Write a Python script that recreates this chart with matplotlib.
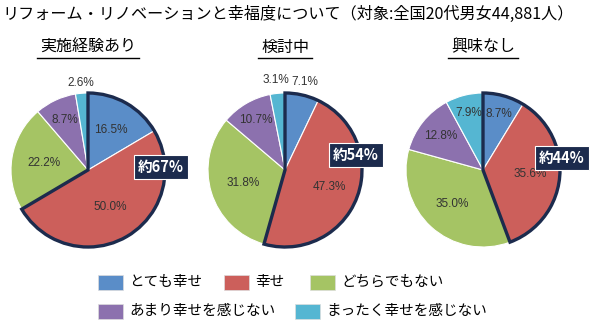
import matplotlib
matplotlib.use("Agg")
import matplotlib.pyplot as plt
from matplotlib.patches import Wedge, Rectangle
import numpy as np

plt.rcParams["font.family"] = ["Noto Sans CJK JP", "DejaVu Sans"]

# data
title = "リフォーム・リノベーションと幸福度について（対象:全国20代男女44,881人）"
groups = ["実施経験あり", "検討中", "興味なし"]
categories = ["とても幸せ", "幸せ", "どちらでもない", "あまり幸せを感じない", "まったく幸せを感じない"]
shares = [
    [16.5, 50.0, 22.2, 8.7, 2.6],
    [7.1, 47.3, 31.8, 10.7, 3.1],
    [8.7, 35.6, 35.0, 12.8, 7.9],
]
callouts = ["約67%", "約54%", "約44%"]

colors = ["#5A8DC8", "#CC5F5B", "#A5C464", "#8C71AE", "#55B6D2"]
navy = "#1C2B4D"

W, H = 590, 324
fig = plt.figure(figsize=(W / 100, H / 100), dpi=100)
ax = fig.add_axes([0, 0, 1, 1])

# layout in pixel coords (y from top)
centers = [(88, 170), (285, 170), (483, 170)]
radius = 77
label_dist = [
    [0.60, 0.56, 0.58, 0.72, 1.13],
    [1.17, 0.61, 0.57, 0.75, 1.17],
    [0.76, 0.61, 0.59, 0.70, 0.76],
]
callout_pos = [(161, 167), (356, 155), (562, 158)]

for i, vals in enumerate(shares):
    cx, cy = centers[i]
    c = (cx, H - cy)
    wedges, _ = ax.pie(vals, colors=colors, center=c, radius=radius,
                       startangle=90, counterclock=False,
                       wedgeprops=dict(edgecolor="white", linewidth=0.8))
    for j, w in enumerate(wedges):
        ang = np.deg2rad((w.theta1 + w.theta2) / 2)
        d = label_dist[i][j] * radius
        ax.text(c[0] + d * np.cos(ang), c[1] + d * np.sin(ang), f"{vals[j]:.1f}%",
                ha="center", va="center", fontsize=8.5, color="#333333",
                family="Liberation Sans")
    # outline of the two "happy" slices
    sweep = (vals[0] + vals[1]) * 3.6
    ax.add_patch(Wedge(c, radius, 90 - sweep, 90, fill=False,
                       edgecolor=navy, linewidth=2.4, joinstyle="miter", zorder=5))
    px, py = callout_pos[i]
    ax.text(px, H - py, callouts[i], ha="center", va="center", fontsize=10.5,
            fontweight="bold", color="white", zorder=6,
            bbox=dict(boxstyle="square,pad=0.3", facecolor=navy, edgecolor="white", linewidth=0.8))

ax.set_xlim(0, W)
ax.set_ylim(0, H)
ax.set_aspect("equal")
ax.axis("off")

fig.text(2 / W, 1 - 14 / H, title, ha="left", va="center", fontsize=11.6, color="black")

subs = []
for i, g in enumerate(groups):
    t = fig.text(centers[i][0] / W, 1 - 47 / H, g, ha="center", va="center",
                 fontsize=11.5, color="black")
    subs.append(t)

# legend
leg_pos = [(98, 282), (224, 282), (310, 282), (98, 311), (295, 311)]
for k, cat in enumerate(categories):
    lx, ly = leg_pos[k]
    ax.add_patch(Rectangle((lx, H - ly - 7.5), 25, 15, facecolor=colors[k],
                           edgecolor="#dddddd", linewidth=0.5))
    ax.text(lx + 31, H - ly, cat, ha="left", va="center", fontsize=10.5, color="black")

# underline the group titles
fig.canvas.draw()
r = fig.canvas.get_renderer()
for t in subs:
    bb = t.get_window_extent(r)
    ax.plot([bb.x0 - 3, bb.x1 + 3], [H - 58, H - 58], color="black", lw=1)

fig.savefig("out.png", dpi=100)
